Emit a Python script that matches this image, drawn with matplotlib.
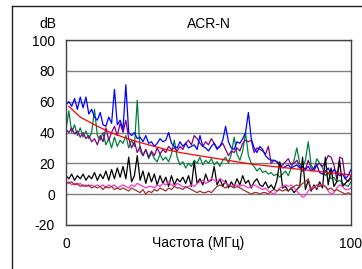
import matplotlib
matplotlib.use('Agg')
import matplotlib.pyplot as plt
import numpy as np
from matplotlib.lines import Line2D

plt.rcParams['font.family'] = ['Liberation Sans', 'DejaVu Sans']
plt.rcParams['axes.unicode_minus'] = False

## data: ACR-N per pair, 0..100 MHz in 1 MHz steps
freq = np.arange(0, 101)

blue = [58, 60, 57, 62, 55, 63, 56, 63, 52, 55,
        50, 48, 53, 45, 44, 50, 46, 68, 45, 48,
        42, 71, 40, 38, 40, 36, 37, 34, 38, 33,
        34, 31, 33, 36, 34, 35, 40, 33, 31, 30,
        34, 31, 33, 30, 31, 32, 29, 38, 31, 30,
        28, 31, 33, 29, 31, 35, 44, 34, 30, 29,
        34, 33, 36, 40, 53, 36, 30, 27, 31, 29,
        25, 23, 22, 22, 21, 20, 17, 18, 19, 17,
        18, 19, 17, 18, 16, 18, 15, 17, 19, 14,
        13, 15, 17, 13, 16, 14, 12, 13, 10, 12, 16]

green = [42, 54, 40, 45, 38, 43, 37, 41, 36, 40,
         55, 38, 35, 40, 32, 36, 30, 37, 31, 35,
         33, 38, 30, 35, 31, 61, 28, 25, 29, 23,
         27, 23, 21, 26, 22, 24, 21, 26, 35, 24,
         19, 21, 17, 20, 18, 22, 20, 24, 19, 22,
         20, 23, 19, 21, 18, 22, 24, 20, 26, 37,
         26, 22, 28, 40, 25, 20, 18, 15, 17, 14,
         15, 13, 14, 12, 13, 11, 13, 15, 12, 17,
         22, 30, 20, 17, 22, 34, 19, 16, 23, 20,
         17, 12, 14, 10, 11, 8, 9, 7, 6, 5, 8]

purple = [42, 40, 43, 39, 41, 37, 40, 36, 38, 34,
          36, 32, 38, 34, 43, 35, 40, 44, 38, 46,
          40, 48, 36, 30, 34, 27, 31, 25, 29, 24,
          28, 25, 30, 26, 29, 27, 31, 29, 30, 28,
          31, 29, 33, 35, 32, 38, 36, 33, 31, 34,
          32, 36, 33, 30, 31, 33, 29, 25, 28, 27,
          30, 28, 33, 35, 34, 35, 27, 30, 29, 28,
          26, 31, 20, 22, 21, 18, 19, 21, 23, 19,
          20, 22, 18, 15, 16, 22, 17, 15, 19, 20,
          18, 21, 25, 24, 19, 10, 24, 23, 10, 8, 12]

black = [12, 10, 13, 9, 12, 10, 13, 9, 12, 10,
         14, 9, 13, 10, 15, 9, 16, 10, 17, 11,
         18, 10, 24, 8, 12, 25, 9, 15, 7, 14,
         8, 13, 6, 12, 7, 11, 5, 12, 6, 10,
         8, 11, 7, 12, 5, 21, 7, 10, 6, 13,
         8, 9, 18, 6, 10, 5, 9, 4, 8, 5,
         10, 6, 12, 7, 9, 4, 8, 10, 6, 5,
         8, 4, 6, 3, 9, 21, 4, 5, 2, 4,
         1, 3, 5, 24, 3, 9, 2, 6, 3, 8,
         4, 24, 6, 17, 5, 8, 22, 5, 7, 9, 10]

pink = [7, 8, 6, 7, 6, 7, 5, 6, 5, 6,
        5, 6, 5, 6, 4, 6, 5, 6, 4, 5,
        6, 5, 4, 6, 5, 7, 6, 5, 4, 5,
        5, 4, 6, 5, 7, 6, 8, 6, 5, 7,
        6, 5, 4, 5, 6, 5, 7, 8, 9, 7,
        8, 10, 9, 8, 10, 9, 7, 6, 5, 6,
        6, 5, 6, 5, 4, 5, 6, 5, 4, 3,
        4, 2, 1, 0, 2, 4, 5, 6, 5, 6,
        4, 2, 0, -2, -1, 2, 4, 5, 4, 6,
        6, 5, 2, 0, 1, 4, 6, 5, 3, 3, 4]

brown = [8, 7, 8, 6, 7, 5, 6, 5, 6, 4,
         5, 4, 5, 3, 5, 4, 5, 3, 4, 3,
         4, 3, 2, 4, 3, 2, 1, 3, 0, 2,
         1, 3, 2, 4, 3, 2, 4, 3, 5, 4,
         4, 3, 5, 4, 3, 2, 1, 2, 1, 1,
         2, 1, 3, 5, 6, 5, 4, 6, 5, 4,
         5, 4, 3, 2, 1, 0, 1, 1, 0, 1,
         1, 0, 2, 3, 2, 3, 2, 3, 2, 4,
         5, 6, 5, 7, 8, 10, 3, 4, 6, 5,
         6, 5, 3, 4, 2, 3, 2, 1, 0, 1, 0]

# limit line
lim_freq = [1, 5, 10, 15, 20, 25, 30, 35, 40, 45, 50, 55, 60, 65, 70, 75, 80, 85, 90, 95, 100]
lim_val = [57, 50, 45, 40.5, 37, 34, 31.5, 29, 27, 25.5, 24, 22.5, 21, 19.5, 18.5, 17.5, 16.5, 15.5, 14.5, 13.5, 12.5]

yticks = [-20, 0, 20, 40, 60, 80, 100]

W, H = 362, 269
fig = plt.figure(figsize=(W/100, H/100), dpi=100, facecolor='w')
ax = fig.add_axes([66/W, 1-225/H, 285/W, 185/H])

lw = 0.9
ax.plot(freq, green, color='#008040', lw=lw)
ax.plot(freq, purple, color='#800080', lw=lw)
ax.plot(freq, blue, color='#0000ff', lw=lw)
ax.plot(freq, black, color='k', lw=lw)
ax.plot(freq, pink, color='#ff33cc', lw=lw)
ax.plot(freq, brown, color='#993333', lw=lw)
ax.plot(lim_freq, lim_val, color='#ff0000', lw=lw)

ax.set_xlim(0, 100)
ax.set_ylim(-20, 100)
ax.set_yticks(yticks)
ax.set_xticks([0, 100])
ax.tick_params(length=0, labelsize=10, colors='#000000')
ax.tick_params(axis='y', pad=8)
ax.tick_params(axis='x', pad=8.5)
ax.grid(axis='y', color='#808080', lw=1)
ax.set_axisbelow(True)
for s in ax.spines.values():
    s.set_color('#404040')
    s.set_linewidth(1)

fig.text(47.5/W, 1-24/H, 'dB', ha='center', va='center', fontsize=10)
fig.text(208.5/W, 1-24/H, 'ACR-N', ha='center', va='center', fontsize=10)
fig.text(198/W, 1-243/H, 'Частота (МГц)', ha='center', va='center', fontsize=10)

# outer chart frame (runs off the right and bottom edges)
fig.add_artist(Line2D([12/W, 12/W], [0, 1-6/H], color='#202020', lw=1))
fig.add_artist(Line2D([12/W, 1], [1-6/H, 1-6/H], color='#202020', lw=1))

fig.savefig('out.png', dpi=100)
